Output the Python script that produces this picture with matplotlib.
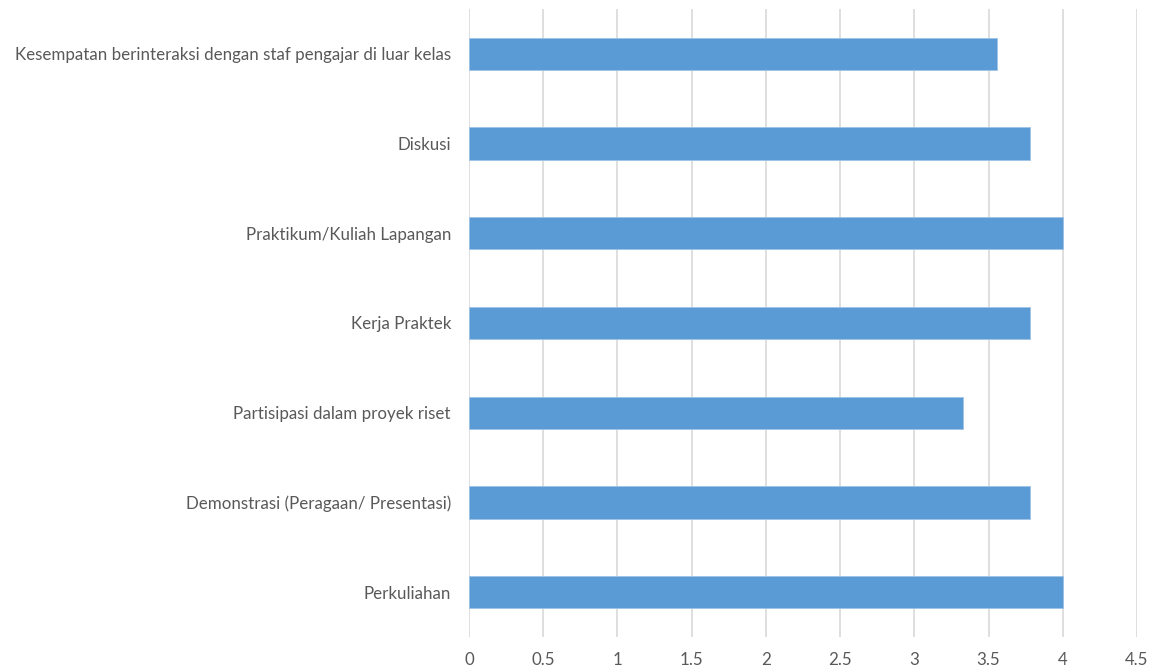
import matplotlib
matplotlib.use("Agg")
import matplotlib.pyplot as plt

categories = [
    "Perkuliahan",
    "Demonstrasi (Peragaan/ Presentasi)",
    "Partisipasi dalam proyek riset",
    "Kerja Praktek",
    "Praktikum/Kuliah Lapangan",
    "Diskusi",
    "Kesempatan berinteraksi dengan staf pengajar di luar kelas",
]
values = [4.0, 3.78, 3.33, 3.78, 4.0, 3.78, 3.56]
xticks = [0, 0.5, 1, 1.5, 2, 2.5, 3, 3.5, 4, 4.5]
xticklabels = ["0", "0.5", "1", "1.5", "2", "2.5", "3", "3.5", "4", "4.5"]

plt.rcParams['font.family'] = ['Lato', 'DejaVu Sans']

fig = plt.figure(figsize=(11.54, 6.70), dpi=100)
ax = fig.add_axes([469/1154, 1 - 637/670, (1137 - 469)/1154, (637 - 9)/670])

ypos = list(range(len(categories)))
ax.barh(ypos, values, height=0.36, color="#5B9BD5", edgecolor="#9DC3E6", linewidth=0.6, zorder=3)

ax.set_xlim(0, 4.5)
ax.set_ylim(-0.5, len(categories) - 0.5)
ax.set_xticks(xticks)
ax.set_xticklabels(xticklabels)
ax.set_yticks(ypos)
ax.set_yticklabels(categories)

ax.grid(axis="x", color="#D9D9D9", linewidth=1.2, zorder=0)
ax.set_axisbelow(True)
for s in ax.spines.values():
    s.set_visible(False)
ax.tick_params(axis="both", length=0, colors="#595959", labelsize=12.2)
ax.tick_params(axis="x", pad=11)
ax.tick_params(axis="y", pad=13)

fig.savefig("out.png", dpi=100)
